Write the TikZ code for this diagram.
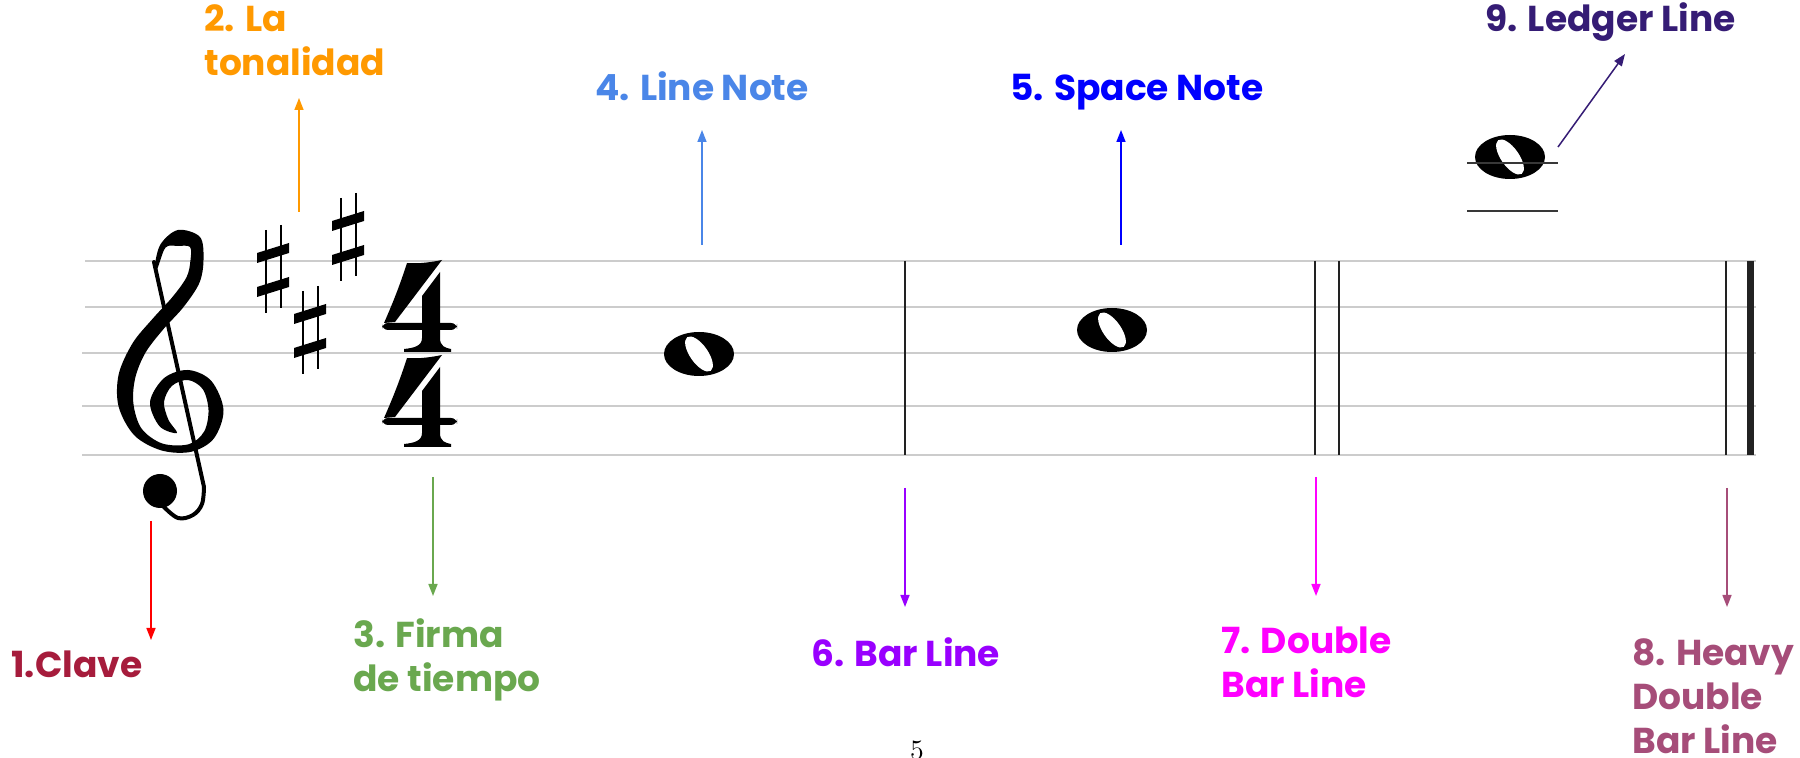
\documentclass[tikz,border=0pt]{standalone}
\usepackage{fontspec}
\newfontfamily\labfont{Poppins}
\usetikzlibrary{arrows.meta}
\definecolor{cClave}{HTML}{A61C3C}
\definecolor{cRed}{HTML}{FF0000}
\definecolor{cOrange}{HTML}{FF9900}
\definecolor{cGreen}{HTML}{6AA84F}
\definecolor{cCorn}{HTML}{4A86E8}
\definecolor{cBlue}{HTML}{0000FF}
\definecolor{cPurple}{HTML}{9900FF}
\definecolor{cMag}{HTML}{FF00FF}
\definecolor{cHeavy}{HTML}{A64D79}
\definecolor{cLedger}{HTML}{351C75}
\definecolor{staffgray}{HTML}{CCCCCC}
\definecolor{barcol}{HTML}{222222}
\tikzset{
  lab/.style={anchor=base west, inner sep=0pt, align=left,
    font=\labfont\bfseries\fontsize{18}{22}\selectfont},
  pointer/.style={line width=0.75pt, -{Triangle[width=4.5pt,length=6pt]}},
  staffline/.style={draw=staffgray, line width=0.8pt},
  thinbar/.style={draw=barcol, line width=1.15pt},
  heavybar/.style={draw=barcol, line width=3.5pt},
  ledger/.style={draw=barcol!90, line width=1pt},
  clefstroke/.style={line cap=round, line join=round},
}
\newcommand\wholenote[2]{%
  \fill (#1,#2) ellipse [x radius=35, y radius=22];
  \fill[white, rotate around={35:(#1,#2)}] (#1,#2) ellipse [x radius=9, y radius=20.5];
}
\newcommand\sharpsign[2]{%
  \begin{scope}[shift={(#1,#2)}]
    \fill (0,28) -- (32,18) -- (32,28) -- (0,38) -- cycle;
    \fill (0,62) -- (32,52) -- (32,62) -- (0,72) -- cycle;
    \draw[line width=1.3pt] (9,5) -- (9,88);
    \draw[line width=1.3pt] (24,0) -- (24,83);
  \end{scope}}
\newcommand\tsfour[2]{%
  \begin{scope}[shift={(#1,#2)}]
    \fill (25,3) .. controls (38,4) and (50,2) .. (60,0) -- (13,62) -- (2,63)
          .. controls (10,45) and (18,25) .. (25,3) -- cycle;
    \fill[rounded corners=3] (0,63) rectangle (75,70);
    \fill (40,36) -- (58,12) -- (58,78) .. controls (58,86) and (63,88) .. (69,89)
          -- (69,92) -- (22,92) -- (22,89) .. controls (32,88) and (40,86) .. (40,78) -- cycle;
  \end{scope}}
\begin{document}
\begin{tikzpicture}[x=0.5pt,y=-0.5pt]
\useasboundingbox (0,0) rectangle (1800,758);
\fill[white] (0,0) rectangle (1800,758);
% staff
\foreach \yy/\xs in {261/85,307/85,353/82,406/82,455/82}
  \draw[staffline] (\xs,\yy) -- (1756,\yy);
% treble clef: body as one filled outline, then stem, hook and ball
\begin{scope}[clefstroke]
  \fill plot[smooth cycle, tension=0.55] coordinates {
    (154.5,267.8) (160.4,244.5) (178,230) (200,237) (203.5,260) (199.3,283.1)
    (183.3,307.3) (163.3,329.3) (145.4,352.8) (135.3,377.7) (133.4,403.5)
    (141.5,428.5) (162.3,443.5) (188.9,444.2) (204.2,431.4) (208.5,410)
    (202.8,389.2) (188,380) (171.9,385.9) (164,402) (168.4,419.7)
    (177,433)
    (159.6,426.3) (150,402) (164.1,378.1) (188,370) (211.2,380.8)
    (223.5,410) (213.8,438.6) (191.1,451.8) (161.7,450.5) (134.5,435.5)
    (118.6,406.5) (118.7,374.3) (132.6,343.2) (152.7,318.7) (172.7,296.7)
    (186.7,276.9) (190.5,260) (190,247) (178,246) (165.6,247.5) (157.5,268.2)};
  \draw[line width=2pt] (154,262) -- (204,487);
  \draw[line width=2pt] plot[smooth, tension=0.6] coordinates {(204,487) (202,504) (193,515) (178,518) (163,506)};
  \fill (160,491) circle [radius=17];
\end{scope}
% key signature
\sharpsign{257}{225}
\sharpsign{294}{286}
\sharpsign{332}{193}
% time signature
\tsfour{382}{260}
\tsfour{382}{355}
% notes
\wholenote{699}{354}
\wholenote{1112}{330}
\wholenote{1510}{157}
\draw[ledger] (1467,163) -- (1558,163);
\draw[ledger] (1467,211) -- (1558,211);
% bar lines
\draw[thinbar] (905,261) -- (905,455);
\draw[thinbar] (1315,261) -- (1315,455);
\draw[thinbar] (1339,261) -- (1339,455);
\draw[thinbar] (1726,261) -- (1726,455);
\draw[heavybar] (1750.5,261) -- (1750.5,455);
% labels (anchor = baseline of the last line)
\node[lab, text=cClave] (l1) at (11,678) {1.Clave};
\node[lab, text=cOrange] (l2) at (204,76) {2. La\\tonalidad};
\node[lab, text=cGreen] (l3) at (353,692) {3. Firma\\de tiempo};
\node[lab, text=cCorn] (l4) at (595,101) {4. Line Note};
\node[lab, text=cBlue] (l5) at (1010,101) {5. Space Note};
\node[lab, text=cPurple] (l6) at (811,667) {6. Bar Line};
\node[lab, text=cMag] (l7) at (1221,698) {7. Double\\Bar Line};
\node[lab, text=cHeavy] (l8) at (1632,754) {8. Heavy\\Double\\Bar Line};
\node[lab, text=cLedger] (l9) at (1485,32) {9. Ledger Line};
\node[anchor=base, inner sep=0pt, font=\fontsize{14}{14}\selectfont] (pg) at (917,760) {5};
% arrows
\coordinate (a1s) at (151,521); \coordinate (a1e) at (151,640);
\coordinate (a2s) at (299,212); \coordinate (a2e) at (299,98);
\coordinate (a3s) at (433,477); \coordinate (a3e) at (433,596);
\coordinate (a4s) at (702,245); \coordinate (a4e) at (702,130);
\coordinate (a5s) at (1121,245); \coordinate (a5e) at (1121,130);
\coordinate (a6s) at (905,488); \coordinate (a6e) at (905,607);
\coordinate (a7s) at (1316,477); \coordinate (a7e) at (1316,596);
\coordinate (a8s) at (1727,488); \coordinate (a8e) at (1727,607);
\coordinate (a9s) at (1558,147); \coordinate (a9e) at (1625,54);
\draw[pointer, cRed] (a1s) -- (a1e);
\draw[pointer, cOrange] (a2s) -- (a2e);
\draw[pointer, cGreen] (a3s) -- (a3e);
\draw[pointer, cCorn] (a4s) -- (a4e);
\draw[pointer, cBlue] (a5s) -- (a5e);
\draw[pointer, cPurple] (a6s) -- (a6e);
\draw[pointer, cMag] (a7s) -- (a7e);
\draw[pointer, cHeavy] (a8s) -- (a8e);
\draw[pointer, cLedger] (a9s) -- (a9e);
\end{tikzpicture}
\end{document}
